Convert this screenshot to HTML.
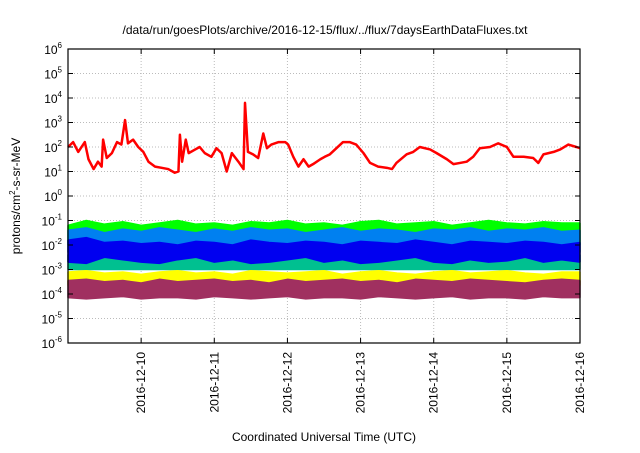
<!DOCTYPE html>
<html><head><meta charset="utf-8"><style>
body{margin:0;background:#fff;}
svg text{font-family:"Liberation Sans",sans-serif;}
</style></head><body>
<svg id="chart" width="640" height="448" viewBox="0 0 640 448" xmlns="http://www.w3.org/2000/svg">
<rect width="640" height="448" fill="#fff"/>
<text x="325" y="34" font-size="12" text-anchor="middle">/data/run/goesPlots/archive/2016-12-15/flux/../flux/7daysEarthDataFluxes.txt</text>
<g id="grid"></g>
<g id="series"></g>
<g id="axes"></g>
<text transform="translate(20,196) rotate(-90)" font-size="12" text-anchor="middle">protons/cm<tspan dy="-5" font-size="8">2</tspan><tspan dy="5">-s-sr-MeV</tspan></text>
<text x="324" y="441" font-size="12" text-anchor="middle">Coordinated Universal Time (UTC)</text>
</svg>
<script>
const dayLabels=["2016-12-10","2016-12-11","2016-12-12","2016-12-13","2016-12-14","2016-12-15","2016-12-16"];
const dayTicks=[1,2,3,4,5,6,7];
const decades=[-6,-5,-4,-3,-2,-1,0,1,2,3,4,5,6];
const redT=[0.00,0.07,0.14,0.23,0.28,0.35,0.41,0.46,0.48,0.53,0.60,0.67,0.73,0.78,0.82,0.89,0.96,1.03,1.10,1.19,1.28,1.37,1.46,1.51,1.53,1.56,1.61,1.65,1.74,1.80,1.87,1.96,2.03,2.10,2.17,2.24,2.33,2.40,2.42,2.46,2.53,2.60,2.67,2.72,2.78,2.88,2.97,3.01,3.08,3.15,3.22,3.29,3.35,3.45,3.51,3.58,3.67,3.76,3.85,3.94,4.04,4.13,4.24,4.36,4.43,4.49,4.63,4.72,4.81,4.95,5.04,5.18,5.27,5.36,5.45,5.54,5.63,5.77,5.88,6.00,6.09,6.23,6.36,6.43,6.50,6.64,6.73,6.84,6.95,7.00];
const redLog=[2.0,2.2,1.8,2.2,1.5,1.1,1.4,1.2,2.3,1.55,1.75,2.2,2.1,3.1,2.15,2.3,2.0,1.8,1.4,1.2,1.15,1.1,0.95,1.0,2.5,1.4,2.3,1.75,1.9,2.0,1.75,1.6,1.95,1.75,1.0,1.75,1.4,1.1,3.8,1.8,1.7,1.55,2.55,1.95,2.1,2.2,2.2,2.1,1.6,1.2,1.5,1.2,1.3,1.5,1.6,1.7,1.95,2.2,2.2,2.1,1.75,1.35,1.2,1.15,1.1,1.35,1.7,1.8,2.0,1.9,1.75,1.5,1.3,1.35,1.4,1.6,1.95,2.0,2.15,2.0,1.6,1.6,1.55,1.35,1.7,1.8,1.9,2.1,2.0,1.95];
const bandT=[0,0.25,0.5,0.75,1,1.25,1.5,1.75,2,2.25,2.5,2.75,3,3.25,3.5,3.75,4,4.25,4.5,4.75,5,5.25,5.5,5.75,6,6.25,6.5,6.75,7];
const greenHi=[-1.2,-1.0,-1.15,-1.05,-1.2,-1.1,-1.0,-1.15,-1.1,-1.2,-1.05,-1.1,-1.0,-1.15,-1.1,-1.2,-1.05,-1.0,-1.15,-1.1,-1.05,-1.2,-1.1,-1.0,-1.1,-1.15,-1.05,-1.1,-1.1];
const greenLo=[-2.0,-2.0,-2.0,-2.0,-2.0,-2.0,-2.0,-2.0,-2.0,-2.0,-2.0,-2.0,-2.0,-2.0,-2.0,-2.0,-2.0,-2.0,-2.0,-2.0,-2.0,-2.0,-2.0,-2.0,-2.0,-2.0,-2.0,-2.0,-2.0];
const lblueHi=[-1.4,-1.3,-1.5,-1.35,-1.45,-1.3,-1.4,-1.5,-1.35,-1.45,-1.3,-1.4,-1.35,-1.5,-1.4,-1.3,-1.45,-1.35,-1.4,-1.5,-1.35,-1.4,-1.3,-1.45,-1.35,-1.4,-1.3,-1.45,-1.4];
const lblueLo=[-2.3,-2.3,-2.3,-2.3,-2.3,-2.3,-2.3,-2.3,-2.3,-2.3,-2.3,-2.3,-2.3,-2.3,-2.3,-2.3,-2.3,-2.3,-2.3,-2.3,-2.3,-2.3,-2.3,-2.3,-2.3,-2.3,-2.3,-2.3,-2.3];
const blueHi=[-1.8,-1.7,-1.9,-1.85,-1.95,-1.9,-2.0,-1.85,-1.9,-2.0,-1.8,-1.9,-1.95,-1.85,-1.9,-2.0,-1.85,-1.9,-1.95,-1.8,-1.9,-2.0,-1.85,-1.9,-1.95,-1.85,-1.9,-2.0,-1.9];
const blueLo=[-2.7,-2.75,-2.5,-2.6,-2.7,-2.75,-2.6,-2.5,-2.7,-2.6,-2.75,-2.7,-2.6,-2.5,-2.7,-2.6,-2.75,-2.7,-2.6,-2.5,-2.7,-2.75,-2.6,-2.7,-2.65,-2.5,-2.7,-2.6,-2.7];
const tealHi=[-2.4,-2.3,-2.5,-2.45,-2.4,-2.5,-2.35,-2.5,-2.45,-2.4,-2.5,-2.4,-2.45,-2.35,-2.5,-2.4,-2.45,-2.5,-2.4,-2.35,-2.45,-2.5,-2.4,-2.45,-2.5,-2.4,-2.45,-2.35,-2.4];
const tealLo=[-3.0,-3.0,-3.0,-3.0,-3.0,-3.0,-3.0,-3.0,-3.0,-3.0,-3.0,-3.0,-3.0,-3.0,-3.0,-3.0,-3.0,-3.0,-3.0,-3.0,-3.0,-3.0,-3.0,-3.0,-3.0,-3.0,-3.0,-3.0,-3.0];
const yellowHi=[-3.1,-3.05,-3.15,-3.1,-3.2,-3.1,-3.05,-3.15,-3.1,-3.2,-3.05,-3.1,-3.15,-3.1,-3.05,-3.2,-3.1,-3.05,-3.15,-3.2,-3.1,-3.05,-3.15,-3.1,-3.05,-3.15,-3.2,-3.1,-3.1];
const yellowLo=[-3.65,-3.6,-3.7,-3.65,-3.6,-3.7,-3.65,-3.6,-3.65,-3.7,-3.6,-3.65,-3.7,-3.6,-3.65,-3.6,-3.7,-3.65,-3.6,-3.7,-3.65,-3.6,-3.65,-3.7,-3.6,-3.65,-3.7,-3.6,-3.65];
const maroonHi=[-3.45,-3.4,-3.5,-3.45,-3.55,-3.4,-3.5,-3.45,-3.4,-3.5,-3.45,-3.55,-3.4,-3.5,-3.45,-3.4,-3.5,-3.45,-3.55,-3.4,-3.45,-3.5,-3.4,-3.45,-3.5,-3.55,-3.45,-3.4,-3.45];
const maroonLo=[-4.15,-4.2,-4.15,-4.1,-4.2,-4.15,-4.15,-4.2,-4.1,-4.15,-4.2,-4.15,-4.1,-4.2,-4.15,-4.15,-4.2,-4.1,-4.15,-4.2,-4.15,-4.1,-4.2,-4.15,-4.15,-4.2,-4.1,-4.15,-4.15];

const L=68,R=580,T=49,B=343;
const xS=d=>L+d*(R-L)/7;
const yS=v=>B-(v+6)*(B-T)/12;
const NS="http://www.w3.org/2000/svg";
function mk(tag,attrs,parent){const e=document.createElementNS(NS,tag);for(const k in attrs)e.setAttribute(k,attrs[k]);parent.appendChild(e);return e;}
const grid=document.getElementById('grid'),axes=document.getElementById('axes'),ser=document.getElementById('series');
decades.forEach(v=>{
  if(v>-6&&v<6){const g=mk('line',{x1:L,x2:R,y1:yS(v),y2:yS(v),stroke:'#bbb','stroke-dasharray':'1,2'},grid);
  }
  const t=mk('text',{x:L-6,y:yS(v)+5,'font-size':'12','text-anchor':'end'},axes);
  
  t.textContent='10';const s=mk('tspan',{dy:'-6','font-size':'8'},t);s.textContent=String(v);
  mk('line',{x1:L,x2:L+5,y1:yS(v),y2:yS(v),stroke:'#000'},axes);
  mk('line',{x1:R,x2:R-5,y1:yS(v),y2:yS(v),stroke:'#000'},axes);
});
dayTicks.forEach((d,i)=>{
  const x=xS(d);
  if(d<7){const g=mk('line',{x1:x,x2:x,y1:T,y2:B,stroke:'#bbb','stroke-dasharray':'1,2'},grid);
  }
  mk('line',{x1:x,x2:x,y1:B,y2:B-5,stroke:'#000'},axes);
  mk('line',{x1:x,x2:x,y1:T,y2:T+5,stroke:'#000'},axes);
  const t=mk('text',{transform:`translate(${x+4},${B+9}) rotate(-90)`,'font-size':'12','text-anchor':'end'},axes);
  
  t.textContent=dayLabels[i];
});
const fr=mk('rect',{x:L,y:T,width:R-L,height:B-T,fill:'none',stroke:'#000','stroke-width':'1.2'},axes);

function band(hi,lo,color,name){
  let p=bandT.map((t,i)=>xS(t)+','+yS(hi[i]));
  for(let i=bandT.length-1;i>=0;i--)p.push(xS(bandT[i])+','+yS(lo[i]));
  const e=mk('polygon',{points:p.join(' '),fill:color,stroke:color,'stroke-width':'1.5','stroke-linejoin':'bevel'},ser);
  
}
band(greenHi,greenLo,'#00ff00','series-green');
band(lblueHi,lblueLo,'#0080f0','series-light-blue');
band(tealHi,tealLo,'#00c090','series-teal');
band(blueHi,blueLo,'#0000f0','series-blue');
band(yellowHi,yellowLo,'#ffff00','series-yellow');
band(maroonHi,maroonLo,'#a03060','series-maroon');
const rl=mk('polyline',{points:redT.map((t,i)=>xS(t)+','+yS(redLog[i])).join(' '),fill:'none',stroke:'#ff0000','stroke-width':'2.5','stroke-linejoin':'round'},ser);

</script>
</body></html>
